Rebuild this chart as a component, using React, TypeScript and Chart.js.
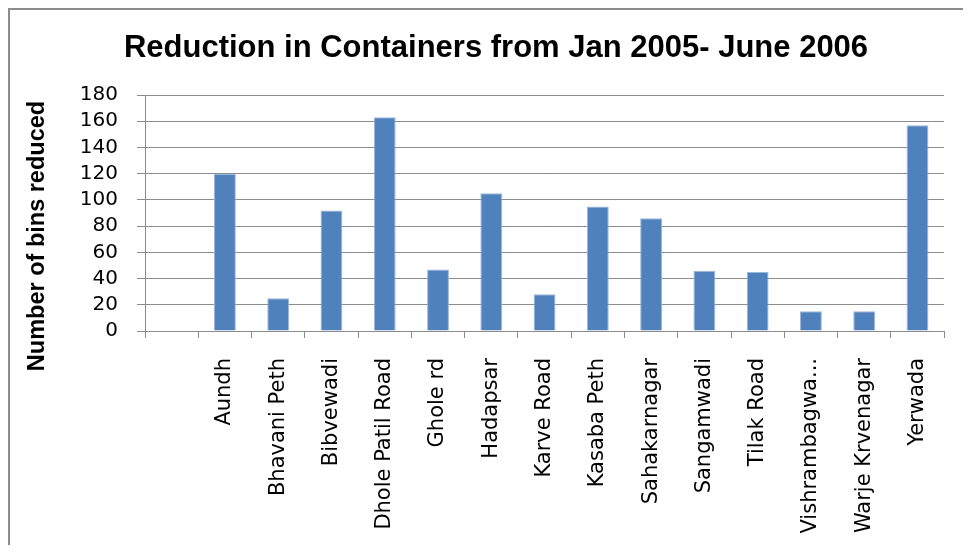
import React, { useEffect, useRef } from "react";
import { Chart, registerables } from "chart.js";

Chart.register(...registerables);

const chartTitle = "Reduction in Containers from Jan 2005- June 2006";
const yAxisTitle = "Number of bins reduced";
const categories = [
  "",
  "Aundh",
  "Bhavani Peth",
  "Bibvewadi",
  "Dhole Patil Road",
  "Ghole rd",
  "Hadapsar",
  "Karve Road",
  "Kasaba Peth",
  "Sahakarnagar",
  "Sangamwadi",
  "Tilak Road",
  "Vishrambagwa...",
  "Warje Krvenagar",
  "Yerwada",
];
const binsReduced: (number | null)[] = [null, 120, 25, 92, 163, 47, 105, 28, 95, 86, 46, 45, 15, 15, 157];
const yMin = 0;
const yMax = 180;
const yStep = 20;

const W = 953;
const H = 535;

export default function App() {
  const ref = useRef<HTMLCanvasElement | null>(null);

  useEffect(() => {
    if (!ref.current) return;
    const textPlugin = {
      id: "textPlugin",
      afterDraw(chart: any) {
        const ctx = chart.ctx;
        ctx.save();
        ctx.fillStyle = "#000";
        ctx.font = 'bold 31px "Liberation Sans", Arial, sans-serif';
        ctx.textAlign = "center";
        ctx.textBaseline = "alphabetic";
        ctx.fillText(chartTitle, 486, 47);
        ctx.translate(34, 226);
        ctx.rotate(-Math.PI / 2);
        ctx.font = 'bold 23.5px "Liberation Sans", Arial, sans-serif';
        ctx.fillText(yAxisTitle, 0, 0);
        ctx.restore();
      },
    };
    const chart = new Chart(ref.current, {
      type: "bar",
      data: {
        labels: categories,
        datasets: [
          {
            data: binsReduced,
            backgroundColor: "#4f81bd",
            borderColor: "#9ab6dc",
            borderWidth: 1,
            barPercentage: 0.41,
            categoryPercentage: 1,
          },
        ],
      },
      options: {
        responsive: false,
        animation: false,
        layout: { padding: { top: 85, right: 10, bottom: 0, left: 0 } },
        plugins: {
          legend: { display: false },
          title: { display: false },
          tooltip: { enabled: false },
        },
        scales: {
          x: {
            type: "category",
            offset: true,
            grid: {
              display: true,
              offset: true,
              drawOnChartArea: false,
              drawTicks: true,
              tickLength: 7,
              color: "#8c8c8c",
              lineWidth: 1,
            },
            border: { display: true, color: "#8c8c8c", width: 1 },
            ticks: {
              autoSkip: false,
              minRotation: 90,
              maxRotation: 90,
              padding: 20,
              color: "#000",
              font: { family: '"DejaVu Sans", sans-serif', size: 21 },
            },
            afterFit(scale: any) {
              scale.height = 214;
            },
          },
          y: {
            min: yMin,
            max: yMax,
            grid: {
              color: "#8c8c8c",
              lineWidth: 1,
              tickLength: 8,
              drawTicks: true,
            },
            border: { display: true, color: "#8c8c8c", width: 1 },
            ticks: {
              stepSize: yStep,
              autoSkip: false,
              padding: 19,
              color: "#000",
              font: { family: '"DejaVu Sans", sans-serif', size: 20 },
            },
            afterFit(scale: any) {
              scale.width = 135;
            },
          },
        },
      },
      plugins: [textPlugin],
    });
    return () => chart.destroy();
  }, []);

  return (
    <div
      style={{
        borderTop: "2px solid #8c8c8c",
        borderLeft: "2px solid #8c8c8c",
        width: W,
        height: H,
      }}
    >
      <canvas ref={ref} width={W} height={H} style={{ display: "block" }} />
    </div>
  );
}
